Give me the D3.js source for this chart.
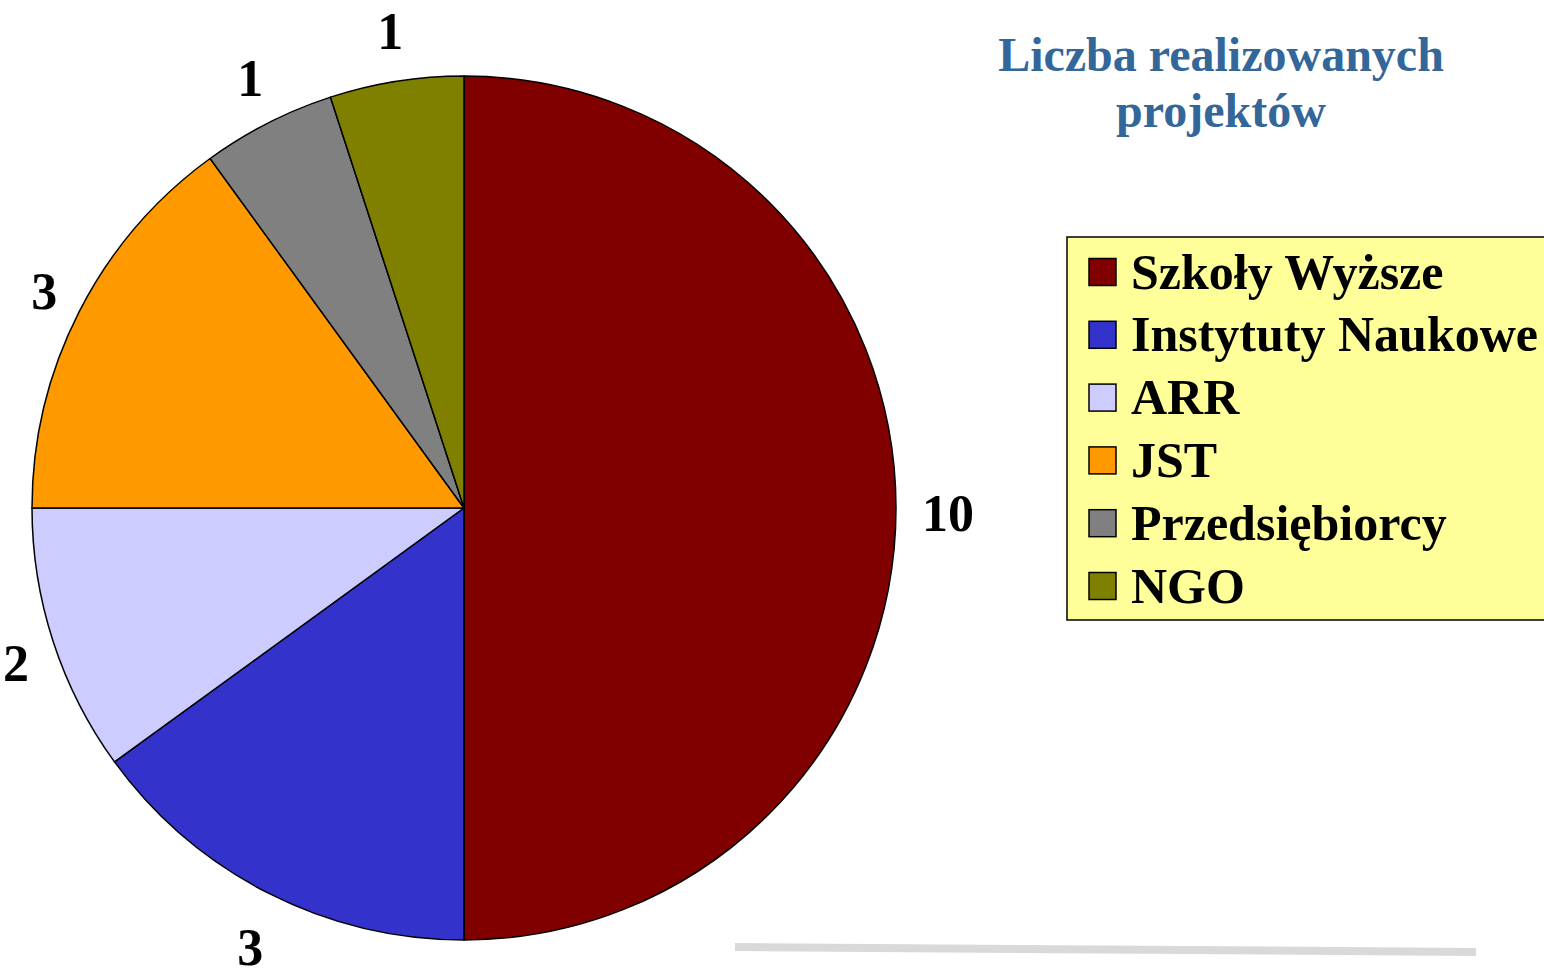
<!DOCTYPE html>
<html>
<head>
<meta charset="utf-8">
<script src="https://cdn.jsdelivr.net/npm/d3@7"></script>
<style>
  body { margin: 0; background: #fff; }
  svg { display: block; }
  text { font-family: "Liberation Serif", "Times New Roman", serif; font-weight: bold; }
</style>
</head>
<body>
<div id="chart"></div>
<script>
// data
var categories = ["Szkoły Wyższe", "Instytuty Naukowe", "ARR", "JST", "Przedsiębiorcy", "NGO"];
var values = [10, 3, 2, 3, 1, 1];
var colors = ["#800000", "#3333cc", "#ccccff", "#ff9900", "#808080", "#808000"];
var titleLines = ["Liczba realizowanych", "projektów"];

var width = 1544, height = 972;
var cx = 464, cy = 508, radius = 432;

var svg = d3.select("#chart").append("svg")
  .attr("width", width)
  .attr("height", height);

var color = d3.scaleOrdinal().domain(categories).range(colors);

var pie = d3.pie().sort(null).value(function(d) { return d.value; });
var data = categories.map(function(c, i) { return { name: c, value: values[i] }; });
var arcs = pie(data);

var arc = d3.arc().innerRadius(0).outerRadius(radius);
var labelArc = d3.arc().innerRadius(458).outerRadius(458);

var g = svg.append("g").attr("transform", "translate(" + cx + "," + cy + ")");

g.selectAll("path.slice")
  .data(arcs)
  .enter().append("path")
    .attr("class", "slice")
    .attr("d", arc)
    .attr("fill", function(d) { return color(d.data.name); })
    .attr("stroke", "#000")
    .attr("stroke-width", 1.5)
    .attr("stroke-linejoin", "round");

// value labels, pushed outward by half their box like Excel does
g.selectAll("text.val")
  .data(arcs)
  .enter().append("text")
    .attr("class", "val")
    .attr("font-size", 52)
    .attr("text-anchor", "middle")
    .attr("dominant-baseline", "central")
    .text(function(d) { return d.data.value; })
    .each(function(d) {
      var c = labelArc.centroid(d);
      var a = (d.startAngle + d.endAngle) / 2;
      var bb = this.getBBox();
      var x = c[0] + Math.sin(a) * bb.width / 2;
      var y = c[1] - Math.cos(a) * 30 + 5;
      d3.select(this).attr("x", x).attr("y", y);
    });

// title
svg.append("text")
  .attr("text-anchor", "middle")
  .attr("font-size", 48)
  .attr("fill", "#336699")
  .selectAll("tspan")
  .data(titleLines)
  .enter().append("tspan")
    .attr("x", 1221)
    .attr("y", function(d, i) { return 71 + i * 56; })
    .text(function(d) { return d; });

// legend
var legend = svg.append("g");
legend.append("rect")
  .attr("x", 1067).attr("y", 237)
  .attr("width", 490).attr("height", 383)
  .attr("fill", "#ffff99")
  .attr("stroke", "#000")
  .attr("stroke-width", 1.5);

var rowY = d3.scalePoint().domain(categories).range([272.5, 586.5]);

var rows = legend.selectAll("g.row")
  .data(categories)
  .enter().append("g")
    .attr("class", "row")
    .attr("transform", function(d) { return "translate(0," + rowY(d) + ")"; });

rows.append("rect")
  .attr("x", 1089).attr("y", -14)
  .attr("width", 27).attr("height", 27)
  .attr("fill", function(d) { return color(d); })
  .attr("stroke", "#000")
  .attr("stroke-width", 1.5);

rows.append("text")
  .attr("x", 1131)
  .attr("y", 16)
  .attr("font-size", 50)
  .text(function(d) { return d; });

// decorative grey rule under the chart
svg.append("line")
  .attr("x1", 735).attr("y1", 947)
  .attr("x2", 1476).attr("y2", 952)
  .attr("stroke", "#d9d9d9")
  .attr("stroke-width", 8);
</script>
</body>
</html>
